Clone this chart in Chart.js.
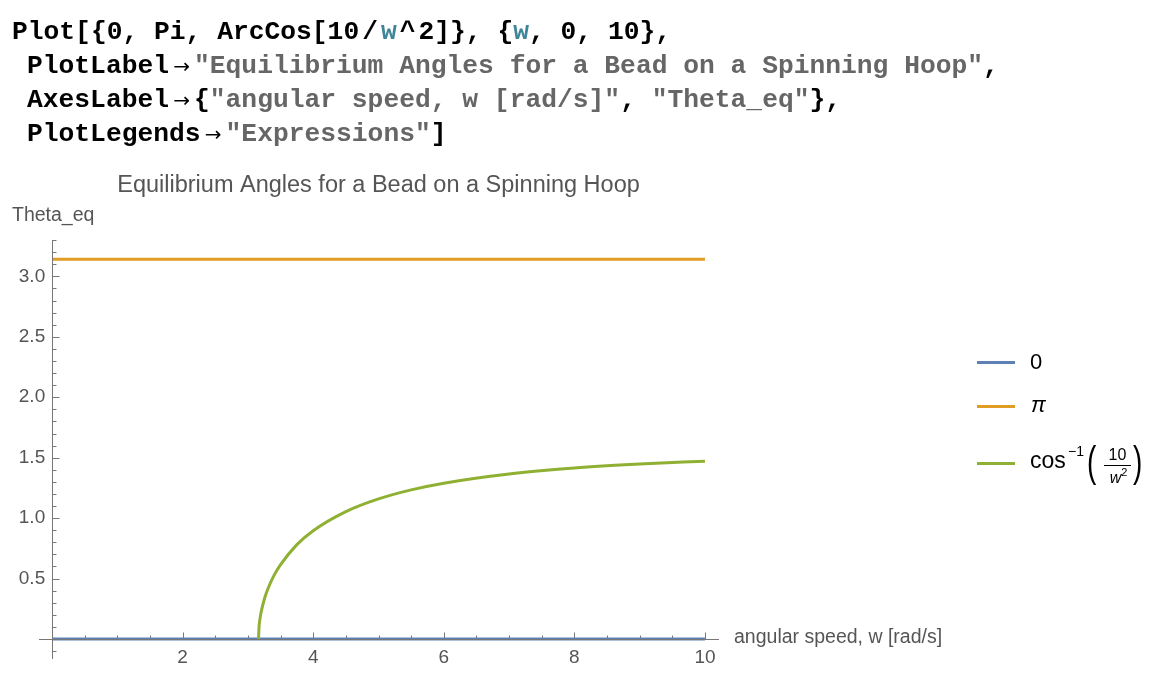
<!DOCTYPE html>
<html>
<head>
<meta charset="utf-8">
<script src="https://cdn.jsdelivr.net/npm/chart.js@4"></script>
<style>
html,body{margin:0;padding:0;background:#fff;}
body{width:1170px;height:682px;position:relative;overflow:hidden;font-family:"Liberation Sans",Arial,sans-serif;}
#chart{position:absolute;left:0;top:0;}
#code{position:absolute;left:0;top:15px;font-family:"Liberation Mono",monospace;font-weight:bold;font-size:26.3px;line-height:34px;color:#000;}
#code .ln{position:absolute;white-space:pre;}
.s{color:#666;}
.v{color:#3F8599;}
.ar{display:inline-block;width:25px;text-align:center;font-family:"DejaVu Sans",sans-serif;font-weight:normal;font-size:20px;}
.op{margin:0 3px;}
#legend{position:absolute;left:0;top:0;color:#000;font-family:"Liberation Sans",Arial,sans-serif;}
.row{position:absolute;left:977px;height:0;width:190px;}
.sw{position:absolute;left:0;top:-1.5px;width:38px;height:3px;}
.t{position:absolute;white-space:nowrap;font-size:22px;line-height:26px;}
</style>
</head>
<body>
<canvas id="chart" width="1170" height="682"></canvas>

<div id="code">
<div class="ln" style="left:12px;top:0px">Plot[{0, Pi, ArcCos[10<span class="op">/</span><span class="v">w</span><span class="op">^</span>2]}, {<span class="v">w</span>, 0, 10},</div>
<div class="ln" style="left:27px;top:34px">PlotLabel<span class="ar">→</span><span class="s">"Equilibrium Angles for a Bead on a Spinning Hoop"</span>,</div>
<div class="ln" style="left:27px;top:68px">AxesLabel<span class="ar">→</span>{<span class="s">"angular speed, w [rad/s]"</span>, <span class="s">"Theta_eq"</span>},</div>
<div class="ln" style="left:27px;top:102px">PlotLegends<span class="ar">→</span><span class="s">"Expressions"</span>]</div>
</div>

<div id="legend">
  <div class="row" style="top:362px">
    <div class="sw" id="sw0"></div>
    <div class="t" style="left:53px;top:-13px">0</div>
  </div>
  <div class="row" style="top:406px">
    <div class="sw" id="sw1"></div>
    <div class="t" style="left:54px;top:-14px;font-style:italic">π</div>
  </div>
  <div class="row" style="top:463px">
    <div class="sw" id="sw2"></div>
    <div class="t" style="left:53px;top:-16px;font-size:23px;line-height:27px">cos</div>
    <div class="t" style="left:91px;top:-20px;font-size:14px;line-height:16px">−1</div>
    <div class="t" style="left:110px;top:-16px;font-size:28px;line-height:30px;transform:scaleY(1.5);transform-origin:50% 50%">(</div>
    <div class="t" style="left:127px;top:-17px;font-size:16px;line-height:18px;width:27px;text-align:center">10</div>
    <div style="position:absolute;left:127px;top:2px;width:27px;height:1px;background:#000"></div>
    <div class="t" style="left:128px;top:6px;font-size:16px;line-height:18px;width:27px;text-align:center"><i>w</i><span style="font-size:11px;position:relative;top:-7px">2</span></div>
    <div class="t" style="left:156px;top:-16px;font-size:28px;line-height:30px;transform:scaleY(1.5);transform-origin:50% 50%">)</div>
  </div>
</div>

<script>
// ---- data ----
const seriesLabels = ['0', 'π', 'cos⁻¹(10/w²)'];
const seriesColors = ['#5E81B5', '#E19C24', '#8FB032'];

const zeroW = [0, 10];
const zeroTheta = [0, 0];

const piW = [0, 10];
const piTheta = [3.1416, 3.1416];

const acosW = [3.1623, 3.17, 3.18, 3.2, 3.25, 3.3, 3.4, 3.5, 3.75, 4, 4.5, 5, 5.5, 6, 7, 8, 9, 10];
const acosTheta = [0, 0.099, 0.149, 0.217, 0.327, 0.407, 0.526, 0.615, 0.781, 0.896, 1.054, 1.159, 1.234, 1.289, 1.365, 1.414, 1.447, 1.471];

const xTickValues = [2, 4, 6, 8, 10];
const xTickLabels = ['2', '4', '6', '8', '10'];
const yTickValues = [0.5, 1, 1.5, 2, 2.5, 3];
const yTickLabels = ['0.5', '1.0', '1.5', '2.0', '2.5', '3.0'];

const titleText = 'Equilibrium Angles for a Bead on a Spinning Hoop';
const xAxisLabel = 'angular speed, w [rad/s]';
const yAxisLabel = 'Theta_eq';

// ---- legend swatches ----
seriesColors.forEach((c, i) => { document.getElementById('sw' + i).style.background = c; });

const toPts = (xs, ys) => xs.map((x, i) => ({ x: x, y: ys[i] }));

const AXIS_COLOR = '#777';
const LABEL_COLOR = '#555';
const FONT = '"Liberation Sans", Arial, sans-serif';

const decor = {
  id: 'decor',
  beforeDatasetsDraw(chart) {
    const { ctx, scales: { x, y } } = chart;
    const x0 = Math.round(x.getPixelForValue(0)) + 0.5;
    const y0 = Math.round(y.getPixelForValue(0)) + 0.5;
    ctx.save();
    ctx.strokeStyle = AXIS_COLOR;
    ctx.lineWidth = 1;
    ctx.beginPath();
    // x-axis ticks every 0.5 (major every 2), pointing up
    for (let k = 1; k <= 20; k++) {
      const px = Math.round(x.getPixelForValue(k * 0.5)) + 0.5;
      const len = (k % 4 === 0) ? 7 : 4;
      ctx.moveTo(px, y0);
      ctx.lineTo(px, y0 - len);
    }
    // y-axis ticks every 0.1 (major every 0.5), pointing right
    for (let k = -1; k <= 33; k++) {
      if (k === 0) continue;
      const py = Math.round(y.getPixelForValue(k / 10)) + 0.5;
      const len = (k % 5 === 0) ? 7 : 4;
      ctx.moveTo(x0, py);
      ctx.lineTo(x0 + len, py);
    }
    ctx.stroke();
    ctx.restore();
  },
  afterDraw(chart) {
    const { ctx, chartArea, scales: { y } } = chart;
    const y0 = y.getPixelForValue(0);
    ctx.save();
    ctx.fillStyle = LABEL_COLOR;
    ctx.font = '19.5px ' + FONT;
    ctx.textBaseline = 'middle';
    ctx.textAlign = 'left';
    ctx.fillText(yAxisLabel, 12, chartArea.top - 25);
    ctx.fillText(xAxisLabel, chartArea.right + 16, y0 - 1);
    ctx.restore();
  }
};

new Chart(document.getElementById('chart'), {
  type: 'line',
  data: {
    datasets: [
      { label: seriesLabels[0], data: toPts(zeroW, zeroTheta), borderColor: seriesColors[0], borderWidth: 3, pointRadius: 0, order: 3 },
      { label: seriesLabels[1], data: toPts(piW, piTheta), borderColor: seriesColors[1], borderWidth: 3, pointRadius: 0, order: 2 },
      { label: seriesLabels[2], data: toPts(acosW, acosTheta), borderColor: seriesColors[2], borderWidth: 3, pointRadius: 0, order: 1, cubicInterpolationMode: 'monotone' }
    ]
  },
  options: {
    responsive: false,
    animation: false,
    devicePixelRatio: 1,
    layout: { padding: { left: 39, right: 452, top: 160, bottom: 24 } },
    plugins: {
      legend: { display: false },
      tooltip: { enabled: false },
      title: {
        display: true,
        text: titleText,
        fullSize: false,
        color: LABEL_COLOR,
        font: { family: FONT, size: 23.5, weight: 'normal', lineHeight: 1.2 },
        padding: { top: 11, bottom: 41 }
      }
    },
    scales: {
      x: {
        type: 'linear',
        min: -0.2,
        max: 10.2,
        position: { y: 0 },
        afterFit(s) { s.height = 0; },
        afterBuildTicks(s) { s.ticks = xTickValues.map(v => ({ value: v })); },
        ticks: {
          autoSkip: false, maxRotation: 0, padding: 7, color: LABEL_COLOR,
          font: { family: FONT, size: 19 },
          callback: (v, i) => xTickLabels[i]
        },
        grid: { display: false, drawTicks: false },
        border: { display: true, color: AXIS_COLOR, width: 1, z: 1 }
      },
      y: {
        type: 'linear',
        min: -0.157,
        max: 3.299,
        position: { x: 0 },
        afterFit(s) { s.width = 0; },
        afterBuildTicks(s) { s.ticks = yTickValues.map(v => ({ value: v })); },
        ticks: {
          autoSkip: false, color: LABEL_COLOR,
          font: { family: FONT, size: 19 },
          callback: (v, i) => yTickLabels[i] + ' \u200A'
        },
        grid: { display: false, drawTicks: false },
        border: { display: true, color: AXIS_COLOR, width: 1, z: 1 }
      }
    }
  },
  plugins: [decor]
});
</script>
</body>
</html>
